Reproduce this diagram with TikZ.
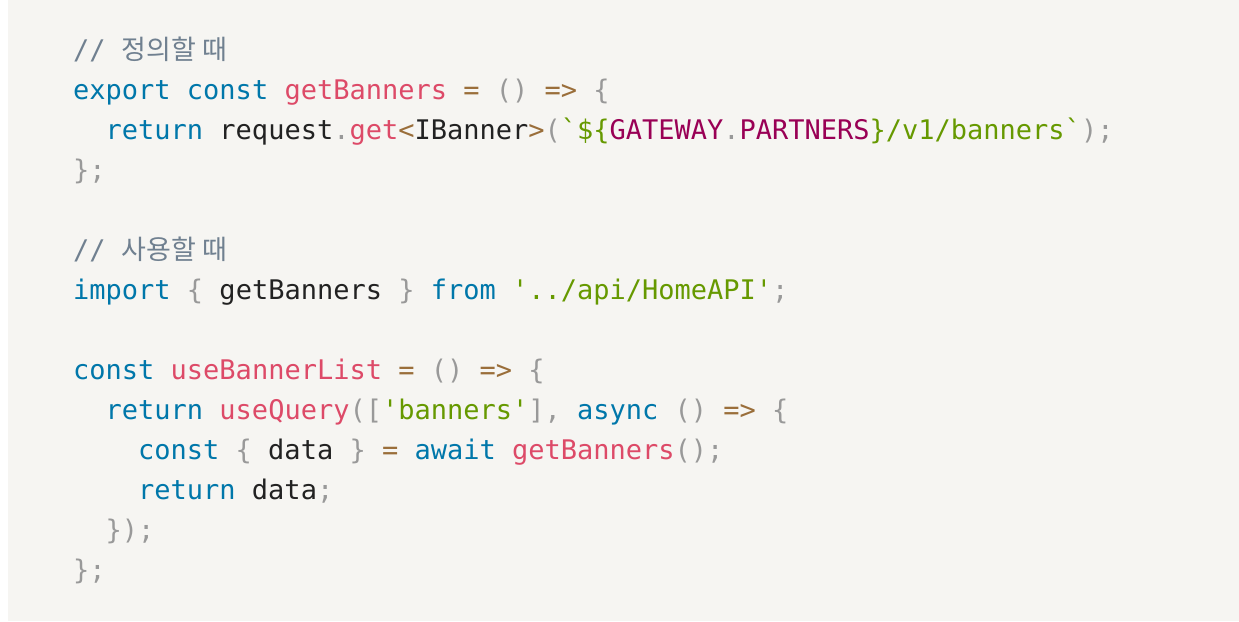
\documentclass[tikz,border=0pt]{standalone}
\usepackage{fontspec}
\usepackage{xcolor}
\newfontfamily\code{DejaVu Sans Mono}
\newfontfamily\cjk{Noto Sans CJK KR}
\definecolor{bgc}{HTML}{F6F5F2}
\definecolor{kwc}{HTML}{0077AA}
\definecolor{fnc}{HTML}{DD4A68}
\definecolor{opc}{HTML}{9A6E3A}
\definecolor{puc}{HTML}{999999}
\definecolor{stc}{HTML}{669900}
\definecolor{cmc}{HTML}{708090}
\definecolor{prc}{HTML}{990055}
\definecolor{txc}{HTML}{222222}
\newcommand\Kw[1]{\textcolor{kwc}{#1}}
\newcommand\Fn[1]{\textcolor{fnc}{#1}}
\newcommand\Op[1]{\textcolor{opc}{#1}}
\newcommand\Pu[1]{\textcolor{puc}{#1}}
\newcommand\St[1]{\textcolor{stc}{#1}}
\newcommand\Pp[1]{\textcolor{prc}{#1}}
\newcommand\Q{\char"27}
\newcommand\BT{\char"60}
\begin{document}
\begin{tikzpicture}[x=1pt,y=-1pt,
  ln/.style={anchor=base west,inner sep=0pt,font=\code\fontsize{27}{40}\selectfont,text=txc}]
\useasboundingbox (0,0) rectangle (1239,621);
\fill[bgc] (8,0) rectangle (1239,621);
\def\cw{16.25}
\node[ln] (l1) at (73,59) {\textcolor{cmc}{// {\cjk 정의할 때}}};
\node[ln] (l2) at (73,99) {\Kw{export} \Kw{const} \Fn{getBanners} \Op{=} \Pu{()} \Op{=>} \Pu{\{}};
\node[ln] (l3) at (73+2*\cw,139) {\Kw{return} request\Pu{.}\Fn{get}\Op{<}IBanner\Op{>}\Pu{(}\St{\BT\$\{}\Pp{GATEWAY}\Pu{.}\Pp{PARTNERS}\St{\}/v1/banners\BT}\Pu{);}};
\node[ln] (l4) at (73,179) {\Pu{\};}};
\node[ln] (l5) at (73,259) {\textcolor{cmc}{// {\cjk 사용할 때}}};
\node[ln] (l6) at (73,299) {\Kw{import} \Pu{\{} getBanners \Pu{\}} \Kw{from} \St{\Q../api/HomeAPI\Q}\Pu{;}};
\node[ln] (l7) at (73,379) {\Kw{const} \Fn{useBannerList} \Op{=} \Pu{()} \Op{=>} \Pu{\{}};
\node[ln] (l8) at (73+2*\cw,419) {\Kw{return} \Fn{useQuery}\Pu{([}\St{\Q banners\Q}\Pu{],} \Kw{async} \Pu{()} \Op{=>} \Pu{\{}};
\node[ln] (l9) at (73+4*\cw,459) {\Kw{const} \Pu{\{} data \Pu{\}} \Op{=} \Kw{await} \Fn{getBanners}\Pu{();}};
\node[ln] (l10) at (73+4*\cw,499) {\Kw{return} data\Pu{;}};
\node[ln] (l11) at (73+2*\cw,539) {\Pu{\});}};
\node[ln] (l12) at (73,579) {\Pu{\};}};
\end{tikzpicture}
\end{document}
